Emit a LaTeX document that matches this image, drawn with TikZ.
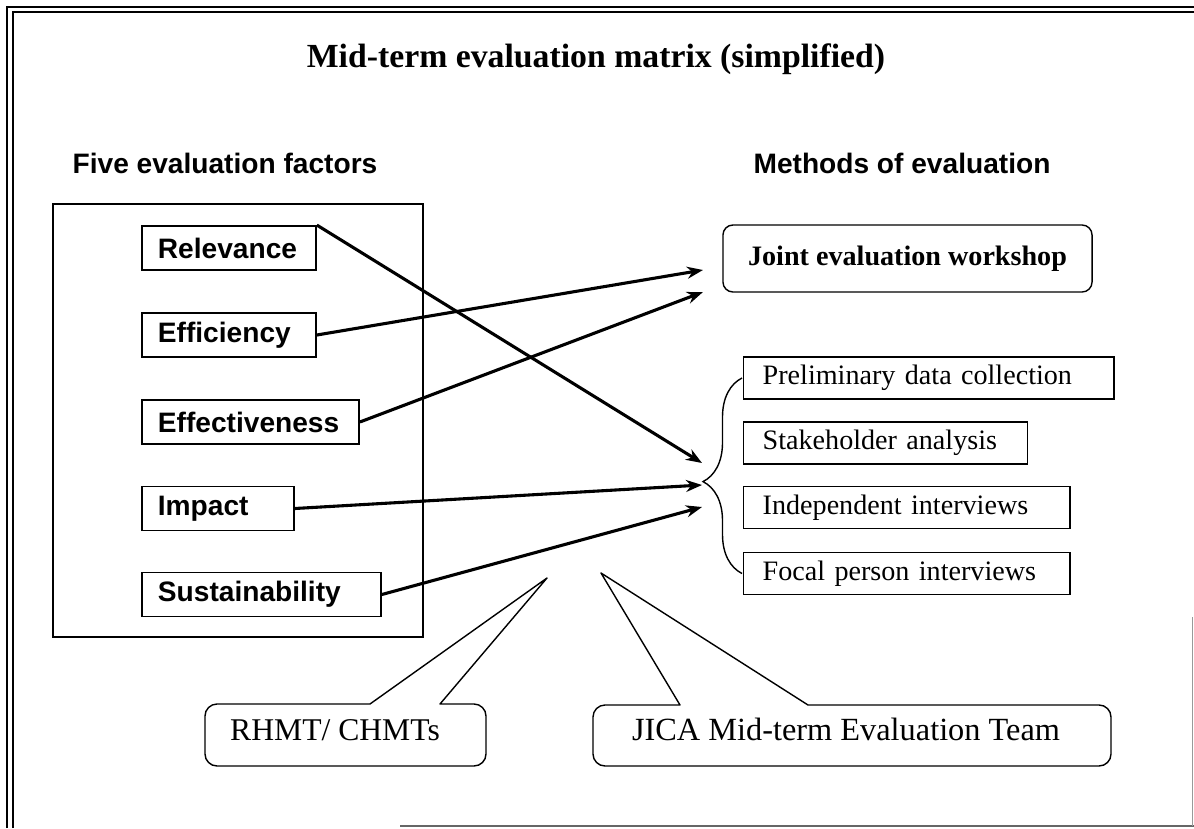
\documentclass[tikz,border=0pt]{standalone}
\usepackage{fontspec}
\setmainfont{Liberation Serif}
\newfontfamily\arialfont{Liberation Sans}
\usepackage{tikz}
\usetikzlibrary{arrows.meta, decorations.pathreplacing, positioning}

\newcommand{\titlefont}{\fontsize{24}{28}\selectfont\bfseries}
\newcommand{\headfont}{\fontsize{20}{24}\selectfont\arialfont\bfseries}
\newcommand{\methodfont}{\fontsize{20}{24}\selectfont}
\newcommand{\calloutfont}{\fontsize{22.5}{26}\selectfont}

\tikzset{
  factor/.style={draw, line width=1.3pt, font=\headfont, text width=#1, align=left,
    inner xsep=0.4cm, inner ysep=0pt, minimum height=1.1cm, anchor=west},
  method/.style={draw, line width=1pt, font=\methodfont, text width=#1, align=left,
    inner xsep=0.475cm, inner ysep=0pt, minimum height=1.05cm, anchor=west},
  link/.style={line width=2.2pt, -{Stealth[length=0.4cm, width=0.3cm]}},
  bubble/.style={line width=1pt, line join=round},
}

\begin{document}
\begin{tikzpicture}[x=0.025cm, y=-0.025cm]
\useasboundingbox (0,0) rectangle (1194,828);
\draw[line width=0.8pt] (7,828) -- (7,7) -- (1194,7);
\draw[line width=0.8pt] (13,828) -- (13,12) -- (1194,12);
\draw[line width=0.8pt, black!60] (400,826) -- (1194,826);
\draw[line width=0.6pt, black!40] (1192,617) -- (1192,826);

\node[font=\titlefont, anchor=base] (title) at (596,67) {Mid-term evaluation matrix (simplified)};
\node[font=\headfont, anchor=base] (factors) at (225,173) {Five evaluation factors};
\node[font=\headfont, anchor=base] (methods) at (902,173) {Methods of evaluation};

\draw[line width=1.3pt] (53,204) rectangle (423,637);
\node[factor=3.55cm] (rel) at (141,248) {Relevance};
\node[factor=3.55cm] (eff) at (141,335) {Efficiency};
\node[factor=4.625cm] (effe) at (141,422) {Effectiveness};
\node[factor=3.0cm] (imp) at (141,508.5) {Impact};
\node[factor=5.175cm] (sus) at (141,594.5) {Sustainability};

\node[draw, line width=1pt, rounded corners=0.25cm, minimum width=9.225cm,
  minimum height=1.675cm, font=\methodfont\bfseries] (joint) at (907.5,258.5) {Joint evaluation workshop};
\node[method=8.3cm] (pre) at (743,378) {Preliminary data collection};
\node[method=6.15cm] (stake) at (743,443) {Stakeholder analysis};
\node[method=7.2cm] (indep) at (743,507.5) {Independent interviews};
\node[method=7.2cm] (focal) at (743,573.5) {Focal person interviews};

\draw[line width=1pt, decorate, decoration={brace, amplitude=0.975cm, aspect=0.47}]
  ([xshift=-0.025cm]focal.west) -- ([xshift=-0.025cm]pre.west);

\coordinate (wsA) at (703,270);
\coordinate (wsB) at (703,292);
\coordinate (brA) at (702,463);
\coordinate (brB) at (702,485);
\coordinate (brC) at (702,507);

\draw[link] (rel.north east) -- (brA);
\draw[link] (eff.east) -- (wsA);
\draw[link] (effe.east) -- (wsB);
\draw[link] (imp.east) -- (brB);
\draw[link] (sus.east) -- (brC);

\node[font=\calloutfont, anchor=base] (rhmt) at (335,740) {RHMT/ CHMTs};
\draw[bubble] (205,740) [rounded corners=0.3cm] -- (205,704) [sharp corners] -- (370,704)
  -- (547,578) -- (440,704) [rounded corners=0.3cm] -- (486,704) -- (486,766)
  -- (205,766) [sharp corners] -- cycle;

\node[font=\calloutfont\fontsize{23}{27}\selectfont, anchor=base] (jica) at (846,740) {JICA Mid-term Evaluation Team};
\draw[bubble] (593,740) [rounded corners=0.3cm] -- (593,705) [sharp corners] -- (680,705)
  -- (601,573) -- (808,705) [rounded corners=0.3cm] -- (1111,705) -- (1111,766)
  -- (593,766) [sharp corners] -- cycle;
\end{tikzpicture}
\end{document}
